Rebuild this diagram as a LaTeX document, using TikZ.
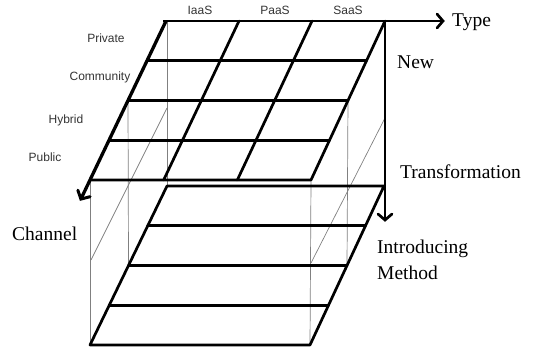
\documentclass[tikz,border=0pt]{standalone}
\usepackage{fontspec}
\setmainfont{Liberation Serif}
\setsansfont{Liberation Sans}
\usetikzlibrary{calc}

\tikzset{
  grid line/.style={line width=2.7pt, line cap=round, line join=round},
  axis line/.style={line width=2.7pt},
  chevron/.style={line width=2.7pt, line cap=round, line join=miter},
  guide line/.style={line width=0.7pt, draw=black!50},
  axis label/.style={font=\fontsize{19.5}{22}\selectfont, anchor=base west, inner sep=0pt},
  cell label/.style={font=\sffamily\fontsize{12}{14}\selectfont, text=black!80, anchor=base, inner sep=0pt},
}

\begin{document}
\begin{tikzpicture}[x=1pt, y=-1pt]
  \useasboundingbox (0,0) rectangle (535,348);

  % upper face: type x deployment grid
  \coordinate (TBL) at (166,21);
  \coordinate (TBR) at (385,21);
  \coordinate (TFL) at (90,180);
  \coordinate (TFR) at (311,180);
  % lower face: introducing-method layers
  \coordinate (BBL) at (167,186);
  \coordinate (BBR) at (384,186);
  \coordinate (BFL) at (90,345);
  \coordinate (BFR) at (310,345);

  % thin guide lines of the side faces
  \coordinate (gl1) at (167,21);
  \draw[guide line] (gl1) -- (BBL);
  \draw[guide line] ($(TBL)!0.5!(TFL)$) -- ($(BBL)!0.5!(BFL)$);
  \draw[guide line] (TFL) -- (BFL);
  \draw[guide line] ($(TBR)!0.5!(TFR)$) -- ($(BBR)!0.5!(BFR)$);
  \draw[guide line] (TFR) -- (BFR);
  \coordinate (dl1) at (167,108);
  \coordinate (dl2) at (91,260);
  \coordinate (dr1) at (385,118);
  \coordinate (dr2) at (311,263);
  \draw[guide line] (dl1) -- (dl2);
  \draw[guide line] (dr1) -- (dr2);

  % upper grid
  \foreach \k in {1,2,3} {
    \draw[grid line] ($(TBL)!\k/4!(TFL)$) -- ($(TBR)!\k/4!(TFR)$);
  }
  \foreach \k in {1,2} {
    \draw[grid line] ($(TBL)!\k/3!(TBR)$) -- ($(TFL)!\k/3!(TFR)$);
  }
  \draw[grid line] (TBR) -- (TFR) -- (TFL);

  % lower grid
  \draw[grid line] (BBR) -- (BBL) -- (BFL) -- (BFR) -- cycle;
  \foreach \k in {1,2,3} {
    \draw[grid line] ($(BBL)!\k/4!(BFL)$) -- ($(BBR)!\k/4!(BFR)$);
  }

  % axes with open chevron heads
  \coordinate (typeStart) at (163,21);
  \coordinate (typeEnd) at (443,21);
  \coordinate (transEnd) at (385,220);
  \coordinate (chanEnd) at ($(TBL)!1.12!(TFL)$);
  \draw[axis line] (typeStart) -- (typeEnd);
  \draw[chevron] ($(typeEnd)+(-6,-7)$) -- (typeEnd) -- ($(typeEnd)+(-6,7)$);
  \draw[axis line] (TBR) -- (transEnd);
  \draw[chevron] ($(transEnd)+(-7,-6)$) -- (transEnd) -- ($(transEnd)+(7,-6)$);
  \draw[axis line, line width=3.3pt] (TBL) -- (chanEnd);
  \draw[chevron, line width=3pt] ($(chanEnd)+(9.2,-2.4)$) -- (chanEnd) -- ($(chanEnd)+(-3,-8.9)$);

  % axis labels
  \node[axis label] (type) at (452,26) {Type};
  \node[axis label] (new) at (397,68) {New};
  \node[axis label] (trans) at (400,178) {Transformation};
  \node[axis label] (chan) at (12,240) {Channel};
  \node[axis label] (intro) at (377,253) {Introducing};
  \node[axis label] (method) at (377,279) {Method};

  % column and row labels
  \node[cell label] (iaas) at (200,14) {IaaS};
  \node[cell label] (paas) at (275,14) {PaaS};
  \node[cell label] (saas) at (348,14) {SaaS};
  \node[cell label] (priv) at (106,42) {Private};
  \node[cell label] (comm) at (100,80) {Community};
  \node[cell label] (hyb) at (66,123) {Hybrid};
  \node[cell label] (pub) at (45,161) {Public};
\end{tikzpicture}
\end{document}
